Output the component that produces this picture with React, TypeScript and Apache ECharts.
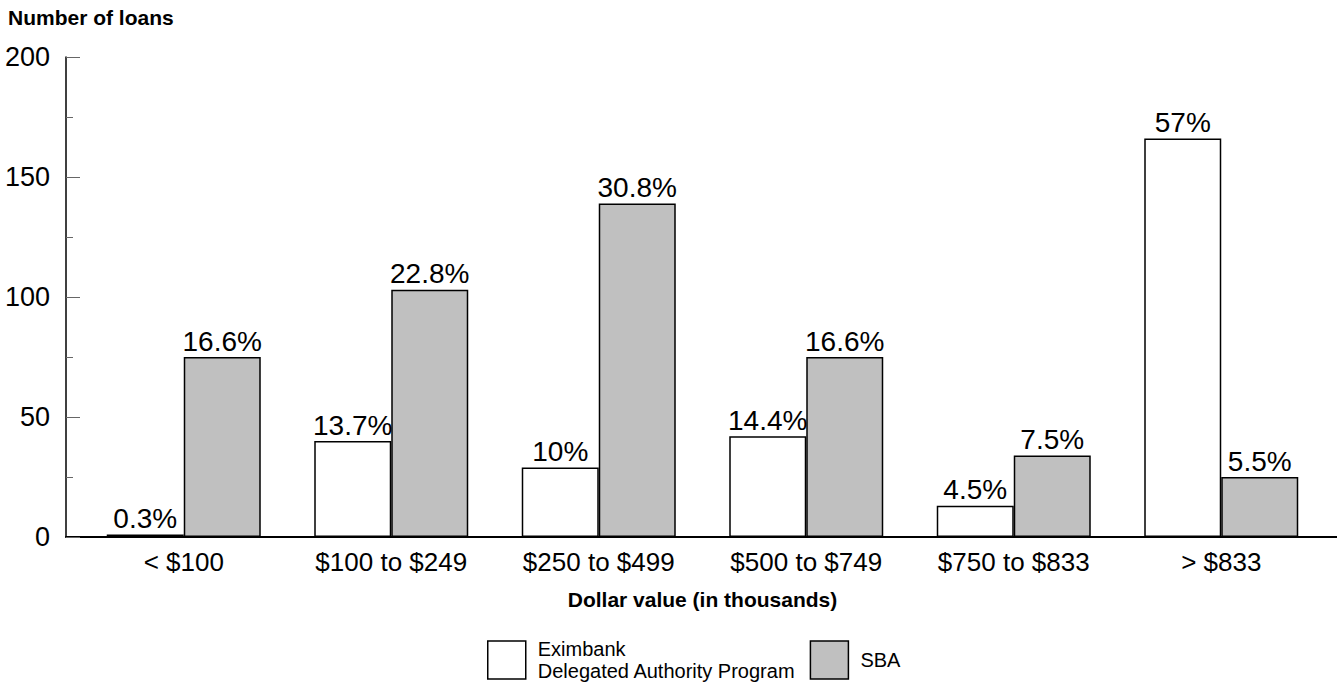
import React, { useEffect, useRef } from "react";
import * as echarts from "echarts";

const categories = ["< $100", "$100 to $249", "$250 to $499", "$500 to $749", "$750 to $833", "> $833"];
const eximValues = [1, 40, 29, 42, 13, 166];
const sbaValues = [75, 103, 139, 75, 34, 25];
const eximPct = ["0.3%", "13.7%", "10%", "14.4%", "4.5%", "57%"];
const sbaPct = ["16.6%", "22.8%", "30.8%", "16.6%", "7.5%", "5.5%"];
const eximName = "Eximbank\nDelegated Authority Program";
const sbaName = "SBA";

const FONT = "'Liberation Sans', Arial, sans-serif";

export default function App() {
  const ref = useRef<HTMLDivElement>(null);
  useEffect(() => {
    if (!ref.current) return;
    const chart = echarts.init(ref.current, null, { renderer: "svg" });
    chart.setOption({
      animation: false,
      backgroundColor: "#ffffff",
      textStyle: { fontFamily: FONT, color: "#000" },
      graphic: [
        {
          type: "text",
          left: 8,
          top: 7,
          style: { text: "Number of loans", font: `bold 21px ${FONT}`, fill: "#000" },
        },
      ],
      grid: [
        { left: 80, right: 12, top: 57, bottom: 151, containLabel: false },
        { left: 66, right: 0, top: 57, bottom: 151, containLabel: false },
      ],
      legend: {
        left: 487,
        top: 638,
        padding: 0,
        icon: "rect",
        itemWidth: 38,
        itemHeight: 38,
        itemGap: 14,
        textStyle: { fontFamily: FONT, fontSize: 20, color: "#000", lineHeight: 22, padding: [0, 0, 0, 7] },
        data: [
          { name: eximName, itemStyle: { color: "#ffffff", borderColor: "#000", borderWidth: 1.5 } },
          { name: sbaName, itemStyle: { color: "#c0c0c0", borderColor: "#000", borderWidth: 1.5 } },
        ],
      },
      xAxis: [
        {
          type: "category",
          gridIndex: 0,
          data: categories,
          axisLine: { show: false },
          axisTick: { show: false },
          axisLabel: { fontFamily: FONT, fontSize: 26, color: "#000", margin: 12 },
          name: "Dollar value (in thousands)",
          nameLocation: "middle",
          nameGap: 52,
          nameTextStyle: { fontFamily: FONT, fontSize: 21, fontWeight: "bold", color: "#000" },
        },
        {
          type: "value",
          gridIndex: 1,
          min: 0,
          max: 1,
          axisLine: { show: true, onZero: false, lineStyle: { color: "#000", width: 2 } },
          axisTick: { show: false },
          axisLabel: { show: false },
          splitLine: { show: false },
        },
      ],
      yAxis: [
        {
          type: "value",
          gridIndex: 0,
          min: 0,
          max: 200,
          interval: 50,
          offset: 14,
          axisLine: { show: true, lineStyle: { color: "#000", width: 1.5 } },
          axisTick: { show: true, inside: true, length: 14, lineStyle: { color: "#666", width: 1 } },
          minorTick: { show: true, splitNumber: 2, length: 7, lineStyle: { color: "#666", width: 1 } },
          axisLabel: { fontFamily: FONT, fontSize: 27, color: "#000", margin: 16 },
          splitLine: { show: false },
        },
        {
          type: "value",
          gridIndex: 1,
          show: false,
          min: 0,
          max: 1,
        },
      ],
      series: [
        {
          name: eximName,
          type: "bar",
          xAxisIndex: 0,
          yAxisIndex: 0,
          data: eximValues,
          barWidth: 77,
          barGap: "0%",
          itemStyle: { color: "#ffffff", borderColor: "#000", borderWidth: 1.5 },
          label: {
            show: true,
            position: "top",
            distance: 2,
            fontFamily: FONT,
            fontSize: 28,
            color: "#000",
            formatter: (p: any) => eximPct[p.dataIndex],
          },
        },
        {
          name: sbaName,
          type: "bar",
          xAxisIndex: 0,
          yAxisIndex: 0,
          data: sbaValues,
          barWidth: 77,
          barGap: "0%",
          itemStyle: { color: "#c0c0c0", borderColor: "#000", borderWidth: 1.5 },
          label: {
            show: true,
            position: "top",
            distance: 2,
            fontFamily: FONT,
            fontSize: 28,
            color: "#000",
            formatter: (p: any) => sbaPct[p.dataIndex],
          },
        },
      ],
    });
    return () => chart.dispose();
  }, []);
  return <div ref={ref} style={{ width: 1337, height: 688, position: "absolute", left: 0, top: 0 }} />;
}
